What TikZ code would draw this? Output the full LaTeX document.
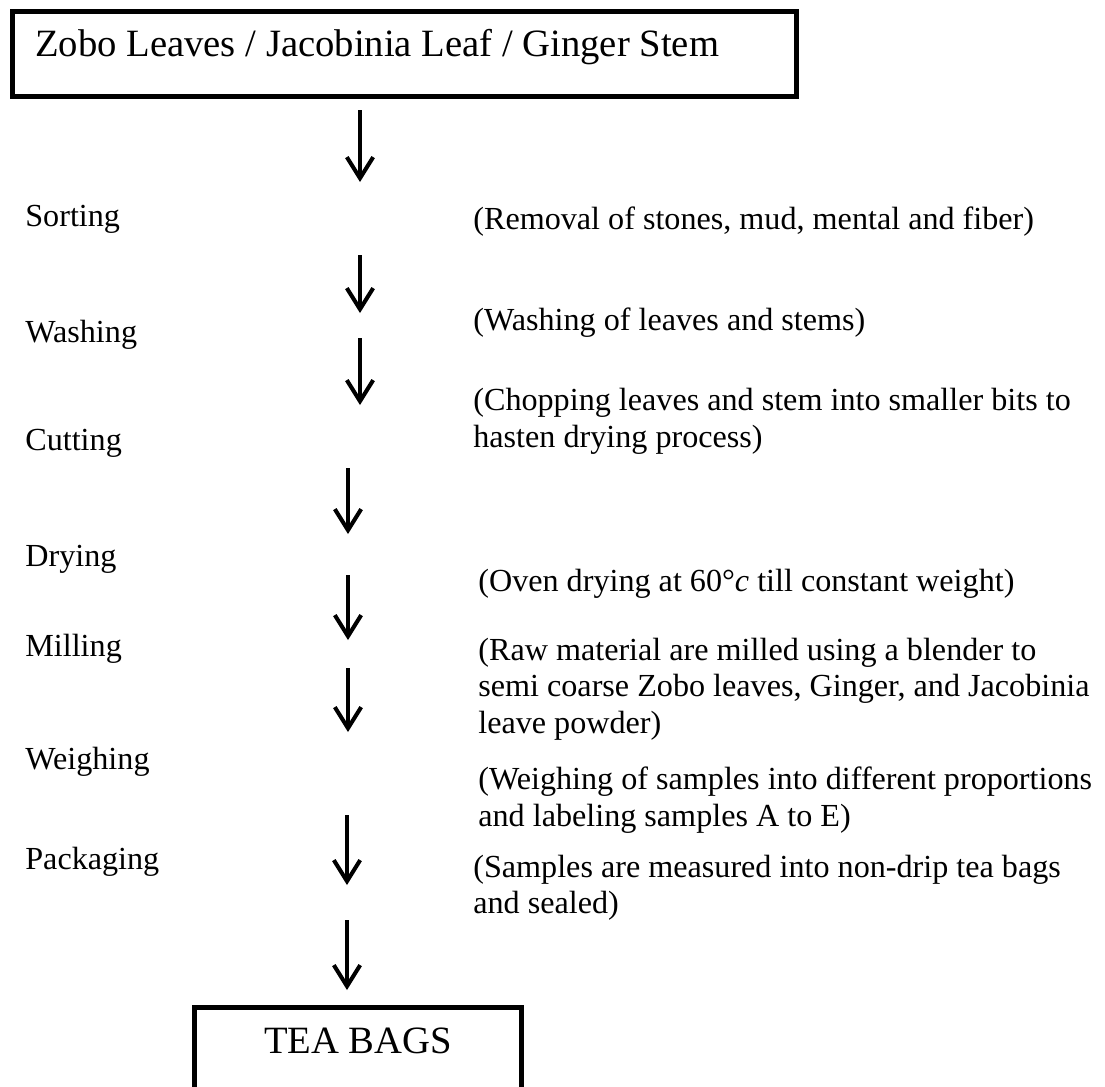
\documentclass[tikz,border=0pt]{standalone}
\usepackage{fontspec}
\setmainfont{Liberation Serif}
\usepackage{tikz}
\usetikzlibrary{arrows.meta}

\begin{document}
\begin{tikzpicture}[x=0.02cm, y=-0.02cm,
                    >={Straight Barb[length=12pt,width=15pt]},
                    stepbox/.style={draw, line width=2.8pt, inner xsep=13pt, inner ysep=0pt,
                                    font=\fontsize{22}{26}\selectfont},
                    steplabel/.style={anchor=base west, inner sep=0pt,
                                      font=\fontsize{18.3}{20.5}\selectfont},
                    note/.style={anchor=base west, inner sep=0pt, align=left,
                                 font=\fontsize{18.3}{20.5}\selectfont},
                    flow/.style={->, line width=2.3pt}]
  \useasboundingbox (0,0) rectangle (1105,1086);
  \clip (0,0) rectangle (1105,1086);
  % boxes
  \node[stepbox, anchor=north west, text width=420pt, align=flush left,
        text height=25.5pt, text depth=23pt] (raw) at (10,9)
        {Zobo Leaves / Jacobinia Leaf / Ginger Stem};
  \node[stepbox, anchor=north, minimum width=327*0.569pt,
        text height=26pt, text depth=50pt] (bags) at (358,1005) {TEA BAGS};
  % steps on the left
  \node[steplabel] (sort)  at (25,226) {Sorting};
  \node[steplabel] (wash)  at (25,342) {Washing};
  \node[steplabel] (cut)   at (25,450) {Cutting};
  \node[steplabel] (dry)   at (25,566) {Drying};
  \node[steplabel] (mill)  at (25,656) {Milling};
  \node[steplabel] (weigh) at (25,769) {Weighing};
  \node[steplabel] (pack)  at (25,869) {Packaging};
  % remarks on the right (anchored on their last line)
  \node[note] (sortnote)  at (473,229) {(Removal of stones, mud, mental and fiber)};
  \node[note] (washnote)  at (473,330) {(Washing of leaves and stems)};
  \node[note] (cutnote)   at (473,447) {(Chopping leaves and stem into smaller bits to\\hasten drying process)};
  \node[note] (drynote)   at (478,591) {(Oven drying at 60°\textit{c} till constant weight)};
  \node[note] (millnote)  at (478,733) {(Raw material are milled using a blender to\\semi coarse Zobo leaves, Ginger, and Jacobinia\\leave powder)};
  \node[note] (weighnote) at (478,826) {(Weighing of samples into different proportions\\and labeling samples A to E)};
  \node[note] (packnote)  at (473,913) {(Samples are measured into non-drip tea bags\\and sealed)};
  % arrows
  \foreach \i/\x/\ys/\ye in {1/360/110/182, 2/360/255/313, 3/360/338/405, 4/348/468/534,
                             5/348/575/640, 6/348/668/732, 7/347/815/885, 8/347/920/990} {
    \coordinate (s\i) at (\x,\ys);
    \coordinate (e\i) at (\x,\ye);
    \draw[flow] (s\i) -- (e\i);
  }
\end{tikzpicture}
\end{document}
